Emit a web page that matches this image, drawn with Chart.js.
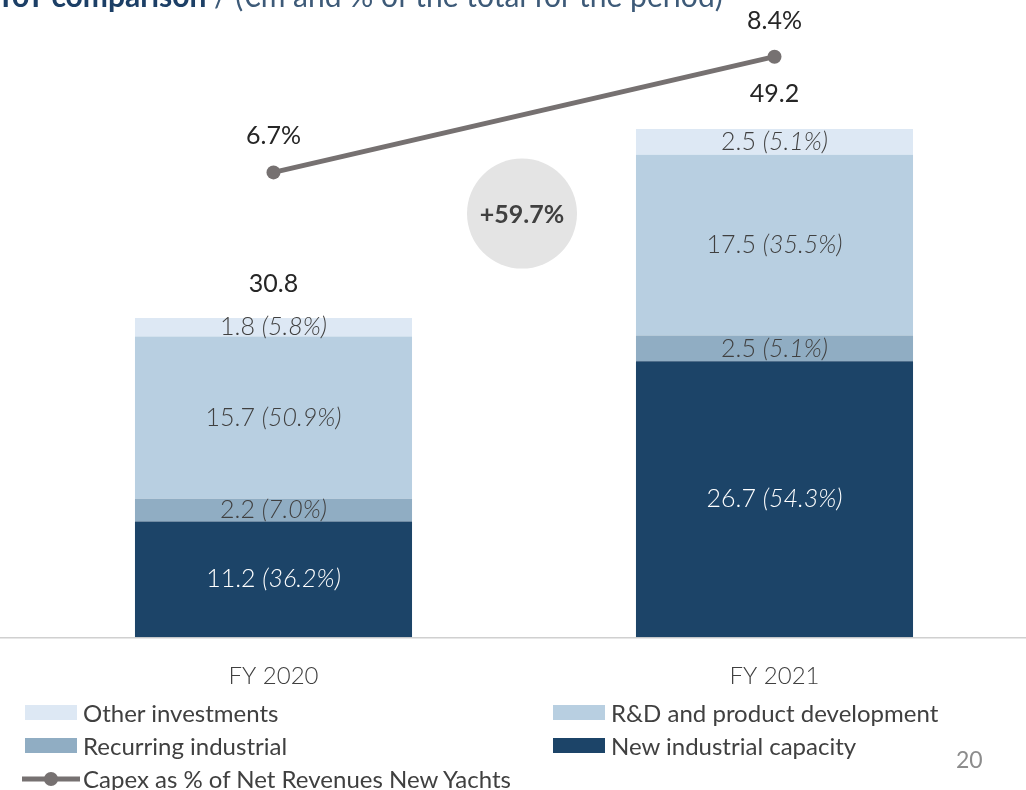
<!DOCTYPE html>
<html>
<head>
<meta charset="utf-8">
<script src="https://cdn.jsdelivr.net/npm/chart.js@4/dist/chart.umd.min.js"></script>
<style>
    body { margin: 0; background: #fff; font-family: Lato, 'Open Sans', sans-serif; }
    .wrap { position: relative; width: 1026px; height: 790px; overflow: hidden; }
    #chart { position: absolute; left: 0; top: 0; }
    .title { position: absolute; left: -4px; top: -21px; font-size: 30px; line-height: 32px; white-space: nowrap; color: #3d5a78; }
    .title b { color: #1c3f66; }
    .legend { position: absolute; font-size: 24px; color: #404040; }
    .item { position: absolute; white-space: nowrap; display: flex; align-items: center; }
    .sw { display: inline-block; width: 52px; height: 15px; margin-right: 6px; }
    .page { position: absolute; left: 956px; top: 745px; font-size: 23px; color: #8c8c8c; }
</style>
</head>
<body>
<div class="wrap">
    <canvas id="chart" width="1032" height="790"></canvas>
    <div class="title"><b>YoY comparison</b> / (€m and % of the total for the period)</div>
    <div class="legend" id="legend"></div>
    <div class="page">20</div>
</div>
<script>
const categories = ['FY 2020', 'FY 2021'];
const newCapacity = [11.2, 26.7];
const recurring = [2.2, 2.5];
const rnd = [15.7, 17.5];
const otherInv = [1.8, 2.5];
const newCapacityPct = [36.2, 54.3];
const recurringPct = [7.0, 5.1];
const rndPct = [50.9, 35.5];
const otherInvPct = [5.8, 5.1];
const totals = [30.8, 49.2];
const capexPct = [6.7, 8.4];
const growthLabel = '+59.7%';

const font = 'Lato, "Open Sans", sans-serif';

// custom labels, totals and the growth bubble //
const labelsPlugin = {
    id: 'labels',
    afterDatasetsDraw(chart) {
        const ctx = chart.ctx;
        const y = chart.scales.y;
        ctx.save();
        ctx.textBaseline = 'middle';

        // growth bubble between the bars
        const x0 = chart.getDatasetMeta(0).data[0].x;
        const x1 = chart.getDatasetMeta(0).data[1].x;
        const cx = (x0 + x1) / 2 - 2;
        const cy = y.getPixelForValue(41);
        ctx.fillStyle = '#e4e4e4';
        ctx.beginPath();
        ctx.arc(cx, cy, 55, 0, Math.PI * 2);
        ctx.fill();
        ctx.fillStyle = '#404040';
        ctx.font = 'bold 25px ' + font;
        ctx.textAlign = 'center';
        ctx.fillText(growthLabel, cx, cy + 1);

        // segment labels
        chart.data.datasets.forEach((ds, i) => {
            if (ds.type === 'line') return;
            const meta = chart.getDatasetMeta(i);
            meta.data.forEach((bar, j) => {
                const main = ds.data[j].toFixed(1) + ' ';
                const pct = '(' + ds.pct[j].toFixed(1) + '%)';
                ctx.font = '300 25px ' + font;
                const w1 = ctx.measureText(main).width;
                ctx.font = 'italic 300 25px ' + font;
                const w2 = ctx.measureText(pct).width;
                const left = bar.x - (w1 + w2) / 2;
                const my = (bar.y + bar.base) / 2;
                ctx.fillStyle = ds.labelColor;
                ctx.textAlign = 'left';
                ctx.font = '300 25px ' + font;
                ctx.fillText(main, left, my);
                ctx.font = 'italic 300 25px ' + font;
                ctx.fillText(pct, left + w1, my);
            });
        });

        // totals above the stacks
        ctx.font = '25px ' + font;
        ctx.fillStyle = '#262626';
        ctx.textAlign = 'center';
        totals.forEach((t, j) => {
            ctx.fillText(t.toFixed(1), chart.getDatasetMeta(0).data[j].x, y.getPixelForValue(t) - 35);
        });

        // line labels
        const lineMeta = chart.getDatasetMeta(4);
        lineMeta.data.forEach((pt, j) => {
            ctx.fillText(capexPct[j].toFixed(1) + '%', pt.x, pt.y - 36);
        });
        ctx.restore();
    },
    beforeDraw(chart) {
        // baseline across the whole slide
        const ctx = chart.ctx;
        const by = chart.scales.y.getPixelForValue(0);
        ctx.save();
        ctx.strokeStyle = '#d0d0d0';
        ctx.lineWidth = 1.5;
        ctx.beginPath();
        ctx.moveTo(0, by + 0.5);
        ctx.lineTo(chart.width, by + 0.5);
        ctx.stroke();
        ctx.restore();
    }
};

const chart = document.querySelector('#chart').getContext('2d');

new Chart(chart, {
    type: 'bar',
    data: {
        labels: categories,
        datasets: [
            { label: 'New industrial capacity', data: newCapacity, pct: newCapacityPct, backgroundColor: '#1c4468', labelColor: '#ffffff', order: 1 },
            { label: 'Recurring industrial', data: recurring, pct: recurringPct, backgroundColor: '#90adc3', labelColor: '#404040', order: 1 },
            { label: 'R&D and product development', data: rnd, pct: rndPct, backgroundColor: '#b8cfe1', labelColor: '#404040', order: 1 },
            { label: 'Other investments', data: otherInv, pct: otherInvPct, backgroundColor: '#dde8f4', labelColor: '#404040', order: 1 },
            {
                type: 'line',
                label: 'Capex as % of Net Revenues New Yachts',
                data: capexPct,
                yAxisID: 'y2',
                borderColor: '#767171',
                backgroundColor: '#767171',
                borderWidth: 5,
                pointRadius: 7,
                pointBackgroundColor: '#767171',
                pointBorderWidth: 0,
                order: 0
            }
        ]
    },
    options: {
        responsive: false,
        animation: false,
        layout: { padding: { left: 23, right: 0, top: 5, bottom: 82 } },
        datasets: { bar: { categoryPercentage: 1, barPercentage: 0.553 } },
        plugins: { legend: { display: false }, tooltip: { enabled: false } },
        scales: {
            x: {
                stacked: true,
                grid: { display: false },
                border: { display: false },
                ticks: { color: '#404040', font: { family: font, size: 24, weight: 300 }, padding: 17 }
            },
            y: { stacked: true, display: false, min: 0, max: 61 },
            y2: { display: false, min: -0.13, max: 9.13 }
        },
        maintainAspectRatio: false
    },
    plugins: [labelsPlugin]
});

// html legend in two columns //
const legendItems = [
    { label: 'Other investments', color: '#dde8f4', x: 25, y: 698 },
    { label: 'R&D and product development', color: '#b8cfe1', x: 553, y: 698 },
    { label: 'Recurring industrial', color: '#90adc3', x: 25, y: 731 },
    { label: 'New industrial capacity', color: '#1c4468', x: 553, y: 731 },
    { label: 'Capex as % of Net Revenues New Yachts', line: true, x: 22, y: 764 }
];
const legend = document.getElementById('legend');
legendItems.forEach(it => {
    const d = document.createElement('div');
    d.className = 'item';
    d.style.left = it.x + 'px';
    d.style.top = it.y + 'px';
    if (it.line) {
        d.innerHTML = '<svg width="61" height="16" style="margin-right:0px"><line x1="0" y1="8" x2="58" y2="8" stroke="#767171" stroke-width="5"/><circle cx="29" cy="8" r="7" fill="#767171"/></svg>' + it.label;
    } else {
        d.innerHTML = '<span class="sw" style="background:' + it.color + '"></span>' + it.label;
    }
    legend.appendChild(d);
});
</script>
</body>
</html>
